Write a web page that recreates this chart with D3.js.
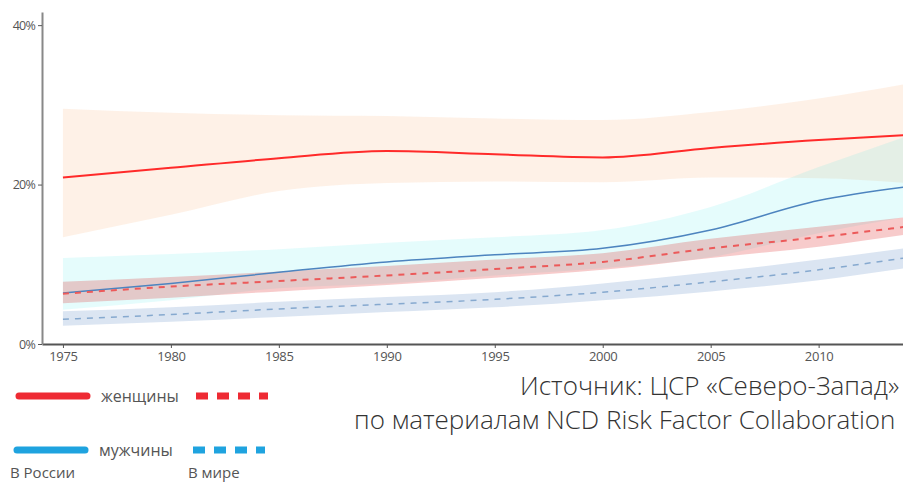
<!DOCTYPE html>
<html>
<head>
<meta charset="utf-8">
<script src="https://cdn.jsdelivr.net/npm/d3@7"></script>
<style>
  body { margin: 0; background: #fff; }
  svg { display: block; font-family: "Open Sans", sans-serif; }
</style>
</head>
<body>
<div id="chart"></div>
<script>
const years = [1975, 1980, 1985, 1990, 1995, 2000, 2005, 2010, 2014]

// в России, женщины
const ruWomen   = [20.9, 22.1, 23.3, 24.2, 23.8, 23.4, 24.6, 25.6, 26.2]
const ruWomenLo = [13.4, 16.2, 19.2, 20.2, 20.4, 20.3, 20.9, 20.8, 20.2]
const ruWomenHi = [29.5, 29.0, 28.7, 28.6, 28.3, 28.1, 29.1, 30.8, 32.6]
// в России, мужчины
const ruMen   = [6.4, 7.6, 9.0, 10.3, 11.2, 12.0, 14.3, 18.0, 19.7]
const ruMenLo = [4.3, 5.5, 7.0, 7.6, 8.6, 9.5, 10.9, 13.9, 15.9]
const ruMenHi = [10.8, 11.3, 11.9, 12.7, 13.4, 14.3, 17.2, 22.2, 26.0]
// в мире, женщины
const wWomen   = [6.3, 7.2, 7.9, 8.6, 9.4, 10.3, 12.0, 13.4, 14.7]
const wWomenLo = [5.1, 5.8, 6.6, 7.4, 8.3, 9.3, 10.8, 12.2, 13.7]
const wWomenHi = [7.8, 8.4, 9.1, 9.8, 10.6, 11.4, 13.2, 14.7, 15.9]
// в мире, мужчины
const wMen   = [3.1, 3.7, 4.4, 5.0, 5.6, 6.5, 7.8, 9.3, 10.8]
const wMenLo = [2.3, 2.8, 3.4, 4.0, 4.6, 5.5, 6.6, 8.0, 9.5]
const wMenHi = [4.1, 4.6, 5.3, 5.9, 6.5, 7.6, 9.0, 10.6, 12.0]

const xTicks = [1975, 1980, 1985, 1990, 1995, 2000, 2005, 2010]
const yTicks = [0, 20, 40]

const legendRows = ["женщины", "мужчины"]
const legendCols = ["В России", "В мире"]
const sourceLines = ["Источник: ЦСР «Северо-Запад»", "по материалам NCD Risk Factor Collaboration"]

const W = 903, H = 484

const svg = d3.select("#chart").append("svg")
  .attr("width", W).attr("height", H)

const x = d3.scaleLinear().domain([1974.03, 2014]).range([42, 905])
const y = d3.scaleLinear().domain([0, 41.65]).range([344, 12])

function band(lo, hi, fill, op) {
  const area = d3.area()
    .curve(d3.curveMonotoneX)
    .x((d, i) => x(years[i]))
    .y0((d, i) => y(lo[i]))
    .y1((d, i) => y(hi[i]))
  svg.append("path")
    .attr("d", area(lo))
    .style("fill", fill)
    .style("fill-opacity", op)
}

function line(vals, color, width, dash) {
  const l = d3.line()
    .curve(d3.curveMonotoneX)
    .x((d, i) => x(years[i]))
    .y(d => y(d))
  svg.append("path")
    .attr("d", l(vals))
    .style("fill", "none")
    .style("stroke", color)
    .style("stroke-width", width)
    .style("stroke-dasharray", dash || null)
}

band(ruWomenLo, ruWomenHi, "#f7a35c", 0.15)
band(ruMenLo, ruMenHi, "#00e5e5", 0.1)
band(wWomenLo, wWomenHi, "#e03030", 0.25)
band(wMenLo, wMenHi, "#4a7fc0", 0.2)

line(ruWomen, "#ff2a2a", 2)
line(ruMen, "#4d84bf", 1.5)
line(wWomen, "#ec5a5a", 2, "6,6")
line(wMen, "#86a9cf", 1.5, "6,6")

// axes
const xAxis = svg.append("g")
  .attr("transform", "translate(0," + y(0) + ")")
  .call(d3.axisBottom(x).tickValues(xTicks).tickFormat(d3.format("d")).tickSize(4).tickSizeOuter(0))
xAxis.select(".domain").style("stroke", "#555").style("stroke-width", 2)
xAxis.selectAll(".tick line").style("stroke", "#555")
xAxis.selectAll("text")
  .attr("y", 5).attr("dy", "0.9em")
  .style("font-family", "'Open Sans', sans-serif").style("font-size", "13px")
  .style("fill", "#555").style("letter-spacing", "-0.3px")

const yAxis = svg.append("g")
  .attr("transform", "translate(" + x.range()[0] + ",0)")
  .call(d3.axisLeft(y).tickValues(yTicks).tickFormat(d => d + "%").tickSize(4).tickSizeOuter(0))
yAxis.select(".domain").style("stroke", "#888").style("stroke-width", 2)
yAxis.selectAll(".tick line").style("stroke", "#555")
yAxis.selectAll("text")
  .attr("x", -7)
  .style("font-family", "'Open Sans', sans-serif").style("font-size", "12.5px")
  .style("fill", "#555").style("letter-spacing", "-0.8px")

// legend
const legColors = ["#ee2a33", "#1fa3df"]
const legY = [396, 450]
legendRows.forEach((name, i) => {
  svg.append("line")
    .attr("x1", 19 - i * 2).attr("x2", 87 - i * 2)
    .attr("y1", legY[i]).attr("y2", legY[i])
    .style("stroke", legColors[i]).style("stroke-width", 7).style("stroke-linecap", "round")
  svg.append("line")
    .attr("x1", 196 - i * 3).attr("x2", 268 - i * 3)
    .attr("y1", legY[i]).attr("y2", legY[i])
    .style("stroke", legColors[i]).style("stroke-width", 7).style("stroke-dasharray", "12,9")
  svg.append("text")
    .attr("x", 101 - i * 2).attr("y", legY[i] + 6)
    .style("font-size", "16px").style("fill", "#555")
    .text(name)
})
legendCols.forEach((name, i) => {
  svg.append("text")
    .attr("x", i ? 188 : 10).attr("y", 478)
    .style("font-size", "15px").style("fill", "#555")
    .text(name)
})

// source (kept just inside the right edge)
sourceLines.forEach((t, i) => {
  svg.append("text")
    .attr("x", i ? 354 : 520).attr("y", i ? 429 : 395)
    .style("font-size", "26px").style("font-weight", 300).style("fill", "#333")
    .text(t)
})
</script>
</body>
</html>
